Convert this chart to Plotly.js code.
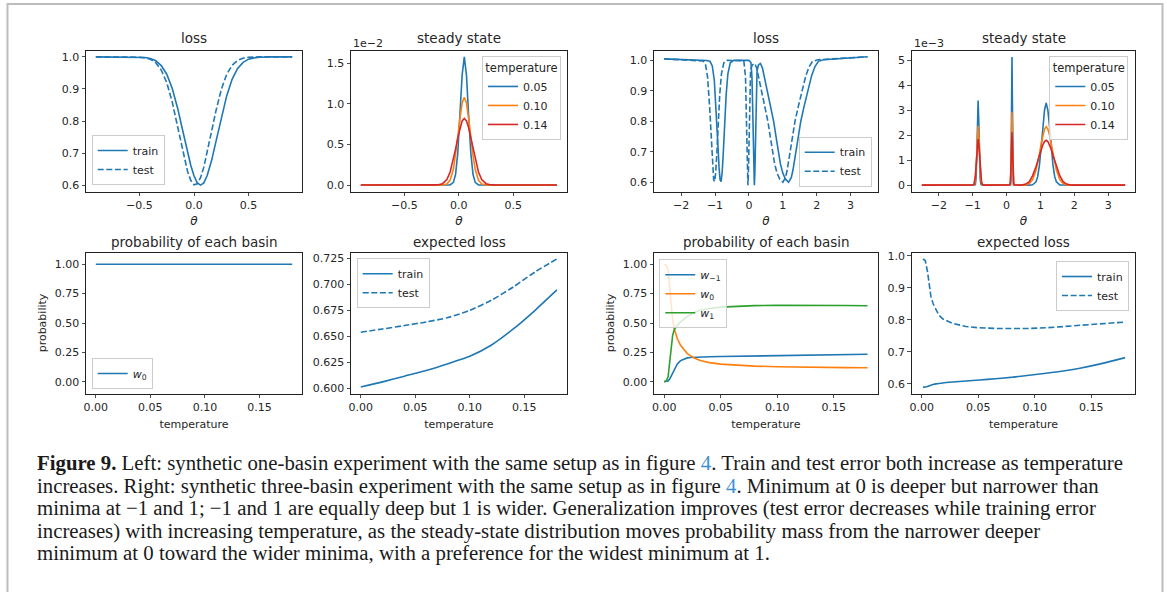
<!DOCTYPE html>
<html><head><meta charset="utf-8">
<script src="https://cdn.plot.ly/plotly-3.0.1.min.js"></script>
<style>html,body{margin:0;padding:0;background:#fff;} #chart{width:1167px;height:592px;}</style>
</head><body><div id="chart"></div>
<script>
// ---------- Panel A: one-basin loss ----------
const thetaOne = [-0.9,-0.6,-0.5,-0.45,-0.4,-0.35,-0.3,-0.25,-0.2,-0.15,-0.1,-0.06,-0.03,0,0.03,0.06,0.09,0.12,0.16,0.2,0.25,0.3,0.35,0.4,0.45,0.5,0.55,0.6,0.7,0.9];
const lossOneTrain = [1.0,1.0,1.0,0.998,0.995,0.988,0.973,0.946,0.902,0.840,0.765,0.704,0.662,0.629,0.607,0.600,0.607,0.629,0.675,0.734,0.811,0.879,0.931,0.964,0.983,0.993,0.997,0.999,1.0,1.0];
const lossOneTest = [1.0,1.0,0.999,0.997,0.993,0.982,0.959,0.920,0.860,0.782,0.700,0.644,0.615,0.601,0.604,0.623,0.656,0.700,0.766,0.830,0.898,0.946,0.974,0.989,0.996,0.999,1.0,1.0,1.0,1.0];

// ---------- Panel B: one-basin steady state (units of 1e-2) ----------
const thetaSteadyOne = [-0.9,-0.25,-0.2,-0.15,-0.11,-0.08,-0.05,-0.03,-0.01,0.01,0.03,0.05,0.07,0.09,0.11,0.13,0.15,0.18,0.21,0.25,0.3,0.35,0.9];
const steadyOneT005 = [0,0,0,0,0,0.002,0.033,0.133,0.393,0.850,1.350,1.575,1.350,0.850,0.393,0.133,0.033,0.002,0,0,0,0,0];
const steadyOneT010 = [0,0,0,0.001,0.013,0.060,0.194,0.361,0.583,0.821,1.008,1.080,1.008,0.821,0.583,0.361,0.194,0.060,0.013,0.001,0,0,0];
const steadyOneT014 = [0,0,0.002,0.017,0.069,0.161,0.313,0.442,0.580,0.703,0.789,0.820,0.789,0.703,0.580,0.442,0.313,0.161,0.069,0.017,0.002,0,0];

// ---------- Panel C: three-basin loss ----------
const thetaThreeTrain = [-2.5,-2.0,-1.5,-1.25,-1.15,-1.08,-1.02,-0.97,-0.92,-0.88,-0.85,-0.82,-0.79,-0.76,-0.72,-0.67,-0.62,-0.55,-0.45,-0.3,0.0,0.06,0.09,0.11,0.13,0.145,0.16,0.175,0.19,0.21,0.24,0.28,0.34,0.4,0.47,0.53,0.63,0.73,0.8,0.86,0.93,1.0,1.08,1.17,1.25,1.3,1.38,1.45,1.53,1.63,1.73,1.85,1.95,2.05,2.2,2.7,3.1,3.5];
const lossThreeTrain = [1.005,1.003,1.001,0.9995,0.997,0.982,0.934,0.850,0.733,0.647,0.608,0.602,0.631,0.687,0.782,0.889,0.956,0.992,1.0,1.0,1.0,0.993,0.945,0.852,0.716,0.626,0.590,0.626,0.716,0.852,0.965,0.985,0.990,0.975,0.940,0.905,0.855,0.800,0.750,0.705,0.660,0.630,0.610,0.600,0.615,0.640,0.700,0.750,0.800,0.850,0.900,0.950,0.980,0.997,1.002,1.006,1.009,1.012];
const thetaThreeTest = [-2.5,-2.0,-1.6,-1.45,-1.35,-1.28,-1.22,-1.16,-1.11,-1.07,-1.04,-1.01,-0.98,-0.95,-0.91,-0.86,-0.81,-0.74,-0.64,-0.3,-0.15,-0.1,-0.08,-0.06,-0.045,-0.03,-0.015,0.0,0.02,0.05,0.1,0.17,0.23,0.3,0.36,0.46,0.56,0.63,0.69,0.76,0.83,0.91,1.0,1.08,1.13,1.21,1.28,1.36,1.46,1.56,1.68,1.78,1.88,2.03,2.5,3.0,3.5];
const lossThreeTest = [1.005,1.003,1.0,0.999,0.998,0.986,0.946,0.850,0.733,0.647,0.608,0.602,0.631,0.687,0.782,0.889,0.956,0.992,1.0,1.0,0.999,0.945,0.852,0.716,0.626,0.590,0.626,0.716,0.852,0.970,0.985,0.990,0.975,0.940,0.905,0.855,0.800,0.750,0.705,0.660,0.630,0.610,0.600,0.615,0.640,0.700,0.750,0.800,0.850,0.900,0.950,0.980,0.997,1.002,1.005,1.008,1.012];

// ---------- Panel D: three-basin steady state (units of 1e-3) ----------
const thetaSteadyThree = [-2.5,-1.3,-1.04,-0.99,-0.96,-0.94,-0.92,-0.90,-0.88,-0.86,-0.84,-0.82,-0.80,-0.78,-0.76,-0.74,-0.72,-0.69,-0.64,-0.4,0.06,0.09,0.11,0.12,0.13,0.14,0.15,0.16,0.17,0.18,0.19,0.2,0.21,0.23,0.26,0.37,0.47,0.57,0.67,0.77,0.87,0.92,0.97,1.02,1.07,1.12,1.17,1.22,1.27,1.32,1.37,1.42,1.47,1.57,1.67,1.77,1.87,1.97,2.3,3.5];
const steadyThreeT005 = [0,0, 0,0,0,0.001,0.04,0.29,1.13,2.58,3.4,2.58,1.13,0.29,0.04,0.001,0,0,0, 0, 0,0,0.001,0.02,0.226,1.28,3.64,5.15,3.64,1.28,0.226,0.02,0.001,0,0, 0,0,0,0,0.01,0.13,0.35,0.8,1.5,2.35,3.0,3.3,3.0,2.35,1.5,0.8,0.35,0.13,0.01,0,0,0,0, 0,0];
const steadyThreeT010 = [0,0, 0,0.001,0.016,0.075,0.26,0.68,1.37,2.07,2.38,2.07,1.37,0.68,0.26,0.075,0.016,0.001,0, 0, 0,0.001,0.039,0.185,0.62,1.48,2.48,2.95,2.48,1.48,0.62,0.185,0.039,0.001,0, 0,0,0.01,0.06,0.22,0.6,0.9,1.25,1.65,2.0,2.25,2.35,2.25,2.0,1.65,1.25,0.9,0.6,0.22,0.06,0.01,0,0, 0,0];
const steadyThreeT014 = [0,0, 0,0.007,0.053,0.157,0.38,0.76,1.25,1.68,1.85,1.68,1.25,0.76,0.38,0.157,0.053,0.007,0, 0, 0,0.005,0.09,0.29,0.69,1.29,1.87,2.12,1.87,1.29,0.69,0.29,0.09,0.005,0, 0,0.01,0.04,0.14,0.38,0.75,0.97,1.2,1.43,1.62,1.75,1.8,1.75,1.62,1.43,1.2,0.97,0.75,0.38,0.14,0.04,0.01,0, 0,0];

// ---------- Panel E: one-basin probability ----------
const tempOneProb = [0,0.03,0.06,0.09,0.12,0.15,0.18];
const probOneW0 = [1,1,1,1,1,1,1];

// ---------- Panel F: one-basin expected loss ----------
const tempOneLoss = [0,0.02,0.04,0.06,0.08,0.1,0.12,0.14,0.16,0.18];
const expOneTrain = [0.601,0.606,0.6115,0.617,0.6235,0.6306,0.6415,0.657,0.675,0.6946];
const expOneTest = [0.6539,0.657,0.6603,0.6637,0.668,0.6749,0.6848,0.6975,0.712,0.7245];

// ---------- Panel G: three-basin probability ----------
const tempThreeProb = [0,0.002,0.0035,0.005,0.006,0.0075,0.009,0.0115,0.0145,0.0175,0.0205,0.0235,0.027,0.032,0.04,0.05,0.065,0.08,0.1,0.12,0.14,0.16,0.18];
const probThreeWm1 = [0,0.001,0.006,0.025,0.045,0.075,0.105,0.15,0.18,0.195,0.203,0.207,0.209,0.211,0.213,0.215,0.217,0.219,0.222,0.225,0.228,0.231,0.234];
const probThreeW0 = [1.0,0.99,0.95,0.78,0.65,0.53,0.45,0.37,0.31,0.27,0.24,0.22,0.2,0.18,0.163,0.15,0.14,0.133,0.128,0.124,0.122,0.12,0.119];
const probThreeW1 = [0,0.009,0.044,0.195,0.305,0.395,0.445,0.48,0.51,0.535,0.557,0.573,0.591,0.609,0.624,0.635,0.643,0.648,0.65,0.651,0.65,0.649,0.647];

// ---------- Panel H: three-basin expected loss ----------
const tempThreeLoss = [0.001,0.003,0.005,0.0065,0.008,0.01,0.0125,0.015,0.0184,0.0273,0.039,0.051,0.065,0.0807,0.095,0.11,0.125,0.14,0.16,0.18];
const expThreeTrain = [0.59,0.5905,0.592,0.594,0.596,0.598,0.6,0.601,0.603,0.606,0.609,0.612,0.616,0.621,0.627,0.633,0.64,0.649,0.664,0.682];
const expThreeTest = [0.99,0.985,0.95,0.91,0.873,0.85,0.83,0.815,0.803,0.789,0.779,0.775,0.773,0.772,0.773,0.775,0.779,0.784,0.788,0.793];

// ---------- tick labels ----------
const tickThetaOneVals = [-0.5,0,0.5], tickThetaOneText = ['−0.5','0.0','0.5'];
const tickThetaThreeVals = [-2,-1,0,1,2,3], tickThetaThreeText = ['−2','−1','0','1','2','3'];
const tickLoss1Vals = [0.6,0.7,0.8,0.9,1.0], tickLoss1Text = ['0.6','0.7','0.8','0.9','1.0'];
const tickSteady1Vals = [0,0.5,1.0,1.5], tickSteady1Text = ['0.0','0.5','1.0','1.5'];
const tickSteady3Vals = [0,1,2,3,4,5], tickSteady3Text = ['0','1','2','3','4','5'];
const tickTempVals = [0,0.05,0.1,0.15], tickTempText = ['0.00','0.05','0.10','0.15'];
const tickProbVals = [0,0.25,0.5,0.75,1.0], tickProbText = ['0.00','0.25','0.50','0.75','1.00'];
const tickExp1Vals = [0.6,0.625,0.65,0.675,0.7,0.725], tickExp1Text = ['0.600','0.625','0.650','0.675','0.700','0.725'];

const W = 1167, H = 592;
const px = x => x / W, py = y => 1 - y / H;
const C = {blue:'#1f77b4', orange:'#ff7f0e', green:'#2ca02c', red:'#d62728'};
const DASH = '6px,2.6px';
const FONT = 'DejaVu Sans, sans-serif';
const TXT = '#262626';

function tr(x, y, name, color, xa, ya, leg, dash, smooth) {
  const line = {color:color, width:1.6, dash:dash || 'solid'};
  if (smooth) { line.shape = 'spline'; line.smoothing = 0.6; }
  return {type:'scatter', mode:'lines', x:x, y:y, name:name, xaxis:xa, yaxis:ya, legend:leg, line:line, hoverinfo:'skip'};
}
const data = [
  tr(thetaOne, lossOneTrain, 'train', C.blue, 'x', 'y', 'legend'),
  tr(thetaOne, lossOneTest, 'test', C.blue, 'x', 'y', 'legend', DASH),
  tr(thetaSteadyOne, steadyOneT005, '0.05', C.blue, 'x2', 'y2', 'legend2'),
  tr(thetaSteadyOne, steadyOneT010, '0.10', C.orange, 'x2', 'y2', 'legend2'),
  tr(thetaSteadyOne, steadyOneT014, '0.14', C.red, 'x2', 'y2', 'legend2'),
  tr(thetaThreeTrain, lossThreeTrain, 'train', C.blue, 'x3', 'y3', 'legend3'),
  tr(thetaThreeTest, lossThreeTest, 'test', C.blue, 'x3', 'y3', 'legend3', DASH),
  tr(thetaSteadyThree, steadyThreeT005, '0.05', C.blue, 'x4', 'y4', 'legend4'),
  tr(thetaSteadyThree, steadyThreeT010, '0.10', C.orange, 'x4', 'y4', 'legend4'),
  tr(thetaSteadyThree, steadyThreeT014, '0.14', C.red, 'x4', 'y4', 'legend4'),
  tr(tempOneProb, probOneW0, '<i>w</i><sub>0</sub>', C.blue, 'x5', 'y5', 'legend5'),
  tr(tempOneLoss, expOneTrain, 'train', C.blue, 'x6', 'y6', 'legend6', null, true),
  tr(tempOneLoss, expOneTest, 'test', C.blue, 'x6', 'y6', 'legend6', DASH, true),
  tr(tempThreeProb, probThreeWm1, '<i>w</i><sub>−1</sub>', C.blue, 'x7', 'y7', 'legend7'),
  tr(tempThreeProb, probThreeW0, '<i>w</i><sub>0</sub>', C.orange, 'x7', 'y7', 'legend7'),
  tr(tempThreeProb, probThreeW1, '<i>w</i><sub>1</sub>', C.green, 'x7', 'y7', 'legend7'),
  tr(tempThreeLoss, expThreeTrain, 'train', C.blue, 'x8', 'y8', 'legend8', null, true),
  tr(tempThreeLoss, expThreeTest, 'test', C.blue, 'x8', 'y8', 'legend8', DASH)
];

const colsX = [[86,302],[351,566.7],[654,877.7],[911.7,1135.3]];
const rowsY = [[50.5,191.5],[252.5,393.5]];
function axis(dom, anchor, range, vals, text, title, standoff) {
  const a = {domain:dom, anchor:anchor, range:range, tickmode:'array', tickvals:vals, ticktext:text,
    showline:true, mirror:true, linecolor:'#222', linewidth:1, ticks:'outside', ticklen:3.5, tickwidth:0.8,
    tickcolor:'#222', showgrid:false, zeroline:false, fixedrange:true,
    tickfont:{family:FONT, size:11, color:TXT}};
  if (title) a.title = {text:title, font:{family:FONT, size:11, color:TXT}, standoff:standoff};
  return a;
}
const layout = {width:W, height:H, autosize:false, margin:{l:0,r:0,t:0,b:0},
  paper_bgcolor:'#fff', plot_bgcolor:'#fff', showlegend:true, font:{family:FONT, color:TXT}};
const xRanges = [[-0.99,0.99],[-0.99,0.99],[-2.8,3.8],[-2.8,3.8],[-0.009,0.189],[-0.009,0.189],[-0.009,0.189],[-0.009,0.189]];
const yRanges = [[0.58,1.02],[-0.079,1.654],[0.5695,1.0325],[-0.2575,5.4075],[-0.1,1.1],[0.5948,0.7307],[-0.1,1.1],[0.57,1.01]];
const xT = [[tickThetaOneVals,tickThetaOneText],[tickThetaOneVals,tickThetaOneText],[tickThetaThreeVals,tickThetaThreeText],[tickThetaThreeVals,tickThetaThreeText],
            [tickTempVals,tickTempText],[tickTempVals,tickTempText],[tickTempVals,tickTempText],[tickTempVals,tickTempText]];
const yT = [[tickLoss1Vals,tickLoss1Text],[tickSteady1Vals,tickSteady1Text],[tickLoss1Vals,tickLoss1Text],[tickSteady3Vals,tickSteady3Text],
            [tickProbVals,tickProbText],[tickExp1Vals,tickExp1Text],[tickProbVals,tickProbText],[tickLoss1Vals,tickLoss1Text]];
for (let i = 0; i < 8; i++) {
  const col = colsX[i % 4], row = rowsY[Math.floor(i / 4)];
  const sx = i === 0 ? '' : String(i + 1);
  const xd = [px(col[0]), px(col[1])], yd = [py(row[1]), py(row[0])];
  const xt = i < 4 ? '<i>θ</i>' : 'temperature';
  layout['xaxis' + sx] = axis(xd, 'y' + sx, xRanges[i], xT[i][0], xT[i][1], xt, i < 4 ? 5 : 7);
  const yt = (i === 4 || i === 6) ? 'probability' : null;
  layout['yaxis' + sx] = axis(yd, 'x' + sx, yRanges[i], yT[i][0], yT[i][1], yt, 5);
}
['xaxis','xaxis2','xaxis3','xaxis4'].forEach(k => { layout[k].title.font.size = 12; });

function leg(x, y, xa, ya, title) {
  const l = {x:px(x), y:py(y), xanchor:xa, yanchor:ya, bgcolor:'rgba(255,255,255,0.8)', bordercolor:'#cccccc',
    borderwidth:1, font:{family:FONT, size:11, color:TXT}, tracegroupgap:0, itemwidth:30};
  if (title) l.title = {text:title, side:'top center', font:{family:FONT, size:11.5, color:TXT}};
  return l;
}
layout.legend  = leg(91.7, 185, 'left', 'bottom');
layout.legend2 = leg(561, 56, 'right', 'top', 'temperature');
layout.legend3 = leg(871.7, 186.7, 'right', 'bottom');
layout.legend4 = leg(1128.3, 56, 'right', 'top', 'temperature');
layout.legend5 = leg(91.7, 389, 'left', 'bottom');
layout.legend6 = leg(356.7, 258.3, 'left', 'top');
layout.legend7 = leg(659.3, 259.3, 'left', 'top');
layout.legend8 = leg(1129, 261, 'right', 'top');

const titles = [['loss',194,38.5],['steady state',459,38.5],['loss',766,38.5],['steady state',1023.5,38.5],
  ['probability of each basin',194,241.5],['expected loss',459,241.5],['probability of each basin',766,241.5],['expected loss',1023.5,241.5]];
const ann = titles.map(t => ({text:t[0], x:px(t[1]), y:py(t[2]), xref:'paper', yref:'paper', xanchor:'center', yanchor:'middle',
  showarrow:false, font:{family:FONT, size:13.5, color:TXT}}));
ann.push({text:'1e−2', x:px(351), y:py(43.5), xref:'paper', yref:'paper', xanchor:'left', yanchor:'middle', showarrow:false, font:{family:FONT, size:11, color:TXT}});
ann.push({text:'1e−3', x:px(912), y:py(43.5), xref:'paper', yref:'paper', xanchor:'left', yanchor:'middle', showarrow:false, font:{family:FONT, size:11, color:TXT}});

const LINK = '<span style="color:#3d8fd1">4</span>';
const caption = [
  '<b>Figure 9.</b> Left: synthetic one-basin experiment with the same setup as in figure ' + LINK + '. Train and test error both increase as temperature',
  'increases. Right: synthetic three-basin experiment with the same setup as in figure ' + LINK + '. Minimum at 0 is deeper but narrower than',
  'minima at −1 and 1; −1 and 1 are equally deep but 1 is wider. Generalization improves (test error decreases while training error',
  'increases) with increasing temperature, as the steady-state distribution moves probability mass from the narrower deeper',
  'minimum at 0 toward the wider minima, with a preference for the widest minimum at 1.'
];
const capY = [463, 485.5, 508, 530.5, 553];
caption.forEach((c, i) => ann.push({text:c, x:px(35), y:py(capY[i]), xref:'paper', yref:'paper', xanchor:'left', yanchor:'middle',
  showarrow:false, font:{family:'Liberation Serif, serif', size:20.8, color:'#1a1a1a'}}));
layout.annotations = ann;
layout.shapes = [{type:'rect', xref:'paper', yref:'paper', x0:px(7.5), x1:px(1162.5), y0:py(620), y1:py(4),
  line:{color:'#bdbdbd', width:2}, fillcolor:'rgba(0,0,0,0)', layer:'below'}];

Plotly.newPlot('chart', data, layout, {staticPlot:true, displayModeBar:false});
</script></body></html>
